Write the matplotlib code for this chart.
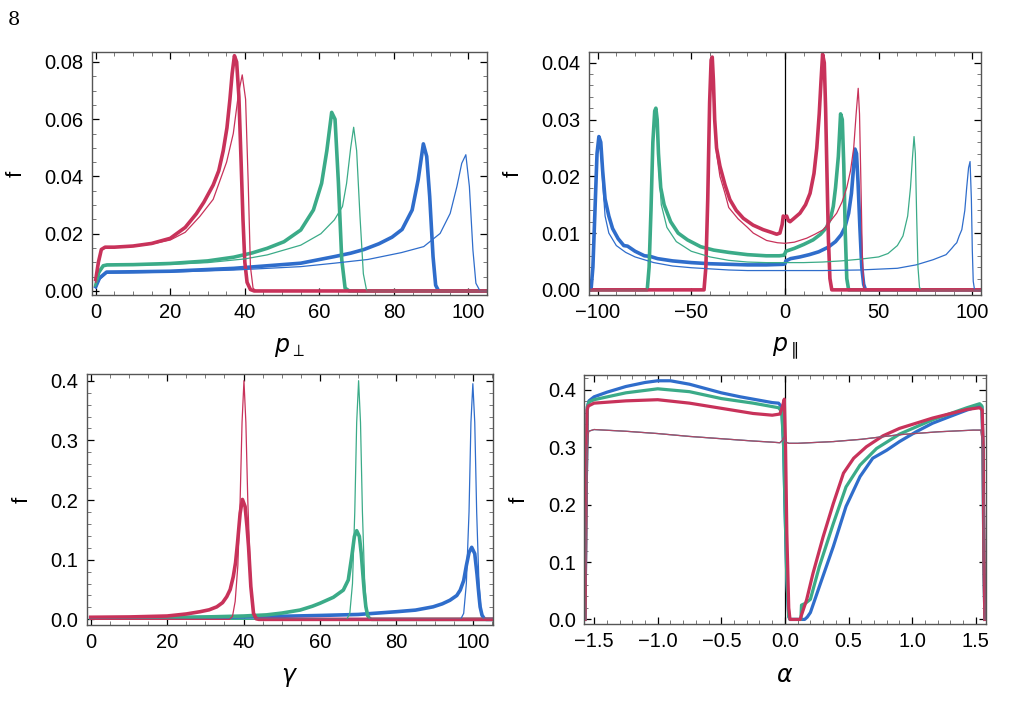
import matplotlib
matplotlib.use('Agg')
import matplotlib.pyplot as plt
from matplotlib.ticker import MultipleLocator, FuncFormatter

plt.rcParams['font.family'] = ['Liberation Sans', 'DejaVu Sans']
plt.rcParams['mathtext.fontset'] = 'dejavusans'

BLUE = '#2f6dcb'
GREEN = '#3bab88'
RED = '#c8325a'

# ---- p_perp panel ----
pperp_blue_thick_x = [0, 1, 2.9, 10, 20, 37, 55, 64, 68.4, 72, 76, 79.5, 82.2, 84.9, 86.5, 87.9, 88.8, 89.6, 90.5, 91.2, 92, 106]
pperp_blue_thick_y = [0.0015, 0.0045, 0.0066, 0.0067, 0.0069, 0.0079, 0.0097, 0.012, 0.0132, 0.0145, 0.0165, 0.0188, 0.0215, 0.0283, 0.0388, 0.0514, 0.047, 0.033, 0.012, 0.002, 0, 0]
pperp_blue_thin_x = [0, 1, 2.9, 20, 37, 55, 64, 73, 82, 88, 92.4, 95.1, 96.9, 98.2, 99.3, 100.25, 101.2, 102.0, 103.1, 106]
pperp_blue_thin_y = [0.001, 0.004, 0.0062, 0.0066, 0.0073, 0.0085, 0.0097, 0.011, 0.0134, 0.0155, 0.0201, 0.0271, 0.0365, 0.0446, 0.0476, 0.0365, 0.0143, 0.0027, 0, 0]
pperp_green_thick_x = [0, 0.8, 2, 3, 10, 20, 30, 37, 42, 46, 50.5, 55, 58.4, 60.6, 62.0, 63.3, 64.2, 65.1, 66.0, 66.9, 68, 106]
pperp_green_thick_y = [0.002, 0.0065, 0.0088, 0.0091, 0.0092, 0.0096, 0.0105, 0.0118, 0.0133, 0.0149, 0.0172, 0.0213, 0.0283, 0.0376, 0.049, 0.0624, 0.060, 0.038, 0.011, 0.001, 0, 0]
pperp_green_thin_x = [0, 0.8, 2, 3, 10, 20, 30, 40, 46, 55, 60.4, 64, 66.2, 67.3, 68.4, 69.2, 70.0, 70.9, 71.8, 72.7, 106]
pperp_green_thin_y = [0.002, 0.006, 0.0086, 0.0089, 0.009, 0.0093, 0.0099, 0.0112, 0.0126, 0.016, 0.020, 0.0248, 0.0295, 0.0376, 0.050, 0.0572, 0.049, 0.026, 0.006, 0, 0]
pperp_red_thick_x = [0, 0.7, 1.5, 2.5, 5, 10, 15, 20, 24, 27, 29, 31.5, 33, 34.2, 35.2, 36, 36.6, 37.2, 37.8, 38.4, 39, 39.5, 40, 40.6, 41.5, 42.5, 106]
pperp_red_thick_y = [0.004, 0.010, 0.0145, 0.0153, 0.0153, 0.0157, 0.0166, 0.0184, 0.0222, 0.027, 0.031, 0.037, 0.042, 0.049, 0.057, 0.067, 0.076, 0.0822, 0.080, 0.068, 0.045, 0.025, 0.010, 0.003, 0.0005, 0, 0]
pperp_red_thin_x = [0, 0.7, 1.5, 2.5, 5, 10, 15, 20, 24, 27.9, 31.5, 35.1, 36.9, 38.3, 39.3, 40.2, 40.9, 41.5, 42.2, 43, 106]
pperp_red_thin_y = [0.003, 0.009, 0.0142, 0.0151, 0.0152, 0.0156, 0.0164, 0.0178, 0.0205, 0.026, 0.032, 0.045, 0.055, 0.069, 0.0755, 0.067, 0.038, 0.0085, 0.001, 0, 0]

# ---- p_par panel ----
ppar_blue_thick_x = [-106, -103.5, -102.5, -101.5, -100.3, -99.3, -98.3, -97.3, -96, -94, -92, -89, -86, -84, -80, -75, -72, -68, -60, -50, -40, -30, -20, -10, -1, 0, 0.5, 3, 8, 13, 18, 23, 27, 30, 32, 34, 35.5, 36.5, 37.4, 38.2, 39, 40, 41, 42, 43, 106]
ppar_blue_thick_y = [0, 0, 0.004, 0.013, 0.024, 0.027, 0.026, 0.021, 0.016, 0.013, 0.0108, 0.009, 0.0078, 0.0077, 0.0068, 0.006, 0.0059, 0.0055, 0.0051, 0.0048, 0.0046, 0.0045, 0.0044, 0.0044, 0.0045, 0.0046, 0.0051, 0.0055, 0.0058, 0.0062, 0.0067, 0.0075, 0.0085, 0.0097, 0.011, 0.0135, 0.017, 0.021, 0.0248, 0.024, 0.019, 0.011, 0.004, 0.001, 0, 0]
ppar_blue_thin_x = [-106, -103.5, -102.5, -101.5, -100.3, -99.3, -98.3, -97.3, -96, -94, -90, -85, -80, -70, -60, -50, -40, -30, -20, 0, 20, 40, 60, 70, 79, 86, 89, 90.5, 91.7, 93, 94.4, 96, 97, 98, 98.8, 99.5, 100, 100.5, 101.2, 106]
ppar_blue_thin_y = [0, 0, 0.004, 0.013, 0.024, 0.0265, 0.025, 0.019, 0.013, 0.010, 0.0078, 0.0066, 0.0058, 0.0048, 0.0042, 0.0039, 0.0037, 0.0035, 0.0034, 0.0034, 0.0034, 0.0035, 0.0038, 0.0044, 0.0053, 0.0062, 0.0073, 0.0079, 0.0083, 0.0095, 0.0106, 0.014, 0.018, 0.0215, 0.0226, 0.016, 0.007, 0.0015, 0, 0]
ppar_green_thick_x = [-106, -73.5, -72.5, -71.5, -70.5, -69.5, -68.9, -68.2, -67.5, -66.3, -64.5, -61, -57, -52, -45, -38, -30, -20, -10, -3, -0.5, 0, 0.5, 5, 10, 15, 19, 22.2, 24.5, 25.8, 27, 28.5, 29.7, 30.6, 31.4, 32.2, 33, 34, 106]
ppar_green_thick_y = [0, 0, 0.004, 0.014, 0.026, 0.0315, 0.032, 0.030, 0.024, 0.018, 0.015, 0.012, 0.010, 0.0088, 0.0076, 0.007, 0.0066, 0.0062, 0.006, 0.006, 0.0061, 0.0064, 0.0068, 0.0073, 0.0080, 0.0088, 0.0098, 0.011, 0.0128, 0.0147, 0.018, 0.0235, 0.031, 0.030, 0.022, 0.010, 0.002, 0, 0]
ppar_green_thin_x = [-106, -73.5, -72.5, -71.5, -70.5, -69.5, -68.9, -68.2, -67.5, -66, -63, -58, -50, -40, -30, -20, -10, 0, 10, 20, 30, 40, 50, 55, 60, 63, 65.5, 67, 68, 68.9, 69.6, 70.3, 71, 71.8, 72.5, 106]
ppar_green_thin_y = [0, 0, 0.004, 0.014, 0.026, 0.031, 0.0315, 0.029, 0.022, 0.015, 0.011, 0.0085, 0.0068, 0.0058, 0.0052, 0.0049, 0.0048, 0.0048, 0.0048, 0.0049, 0.0051, 0.0054, 0.0058, 0.0064, 0.0078, 0.0095, 0.013, 0.018, 0.023, 0.027, 0.024, 0.013, 0.004, 0.0005, 0, 0]
ppar_red_thick_x = [-106, -43.2, -42.2, -41.2, -40.2, -39.4, -38.8, -38.2, -37.5, -36.5, -34.7, -32, -29.4, -26, -22.2, -17, -11.6, -7, -4.4, -2.7, -1.5, -0.9, -0.3, 0.5, 0.9, 1.8, 2.7, 4.5, 8, 11, 13.4, 15.5, 17, 18.3, 19.2, 20.1, 21, 21.7, 22.4, 23.2, 24, 25, 106]
ppar_red_thick_y = [0, 0, 0.004, 0.016, 0.033, 0.0405, 0.041, 0.037, 0.030, 0.025, 0.0218, 0.0185, 0.0159, 0.014, 0.0126, 0.0114, 0.0106, 0.0101, 0.0098, 0.0100, 0.0115, 0.013, 0.0128, 0.0128, 0.013, 0.0122, 0.012, 0.0125, 0.0135, 0.015, 0.017, 0.0205, 0.025, 0.031, 0.0365, 0.0415, 0.040, 0.032, 0.021, 0.009, 0.002, 0, 0]
ppar_red_thin_x = [-106, -43.2, -42.2, -41.2, -40.2, -39.4, -38.8, -38.2, -37.5, -36.5, -34.7, -32, -30, -25, -20, -16.9, -9.8, -4, 0, 5, 11.6, 16, 20.5, 24, 27.6, 30.5, 33, 35, 36.7, 38, 39.1, 39.8, 40.6, 41.3, 42.2, 106]
ppar_red_thin_y = [0, 0, 0.004, 0.016, 0.033, 0.040, 0.0405, 0.036, 0.029, 0.024, 0.020, 0.017, 0.0145, 0.0125, 0.011, 0.010, 0.0087, 0.0083, 0.0082, 0.0084, 0.0091, 0.0098, 0.0106, 0.012, 0.0135, 0.0155, 0.018, 0.021, 0.025, 0.031, 0.0355, 0.031, 0.018, 0.006, 0, 0]

# ---- gamma panel ----
gam_blue_thick_x = [0, 20, 40, 60, 70, 80, 85, 89.6, 92, 94, 95.8, 96.7, 97.6, 98.3, 99, 99.7, 100.5, 101.1, 101.6, 101.9, 102.4, 103, 103.5, 106]
gam_blue_thick_y = [0.002, 0.0025, 0.0038, 0.0065, 0.0082, 0.0128, 0.0155, 0.021, 0.026, 0.032, 0.040, 0.049, 0.065, 0.09, 0.112, 0.1207, 0.11, 0.075, 0.04, 0.021, 0.007, 0.001, 0, 0]
gam_blue_thin_x = [0, 96.8, 97.6, 98.3, 99, 99.5, 100, 100.5, 101, 101.6, 102.2, 102.9, 106]
gam_blue_thin_y = [0, 0, 0.01, 0.06, 0.18, 0.33, 0.395, 0.33, 0.18, 0.06, 0.01, 0, 0]
gam_green_thick_x = [0, 20, 30, 40, 46, 50, 54.8, 58, 60, 63.5, 66.1, 67.4, 68.3, 69, 69.6, 70.3, 70.8, 71.2, 71.6, 72, 72.5, 72.9, 73.5, 106]
gam_green_thick_y = [0.0025, 0.003, 0.004, 0.0056, 0.0075, 0.0105, 0.0156, 0.022, 0.027, 0.037, 0.049, 0.066, 0.105, 0.139, 0.1486, 0.139, 0.11, 0.077, 0.045, 0.021, 0.006, 0.0017, 0, 0]
gam_green_thin_x = [0, 67, 67.8, 68.5, 69.1, 69.6, 70.1, 70.6, 71.1, 71.7, 72.3, 73, 106]
gam_green_thin_y = [0, 0, 0.01, 0.06, 0.18, 0.33, 0.4, 0.33, 0.18, 0.06, 0.01, 0, 0]
gam_red_thick_x = [0, 10, 20, 25, 28.6, 31, 33, 34.5, 35.6, 36.5, 37.3, 37.9, 38.4, 39.1, 39.7, 40.4, 40.9, 41.3, 41.9, 42.6, 43.3, 44, 106]
gam_red_thick_y = [0.0035, 0.004, 0.0056, 0.009, 0.0128, 0.016, 0.021, 0.028, 0.038, 0.05, 0.0715, 0.095, 0.127, 0.178, 0.201, 0.189, 0.155, 0.122, 0.055, 0.01, 0.001, 0, 0]
gam_red_thin_x = [0, 36.3, 37.1, 37.8, 38.5, 39.1, 39.6, 40.1, 40.6, 41.1, 41.7, 42.3, 43, 106]
gam_red_thin_y = [0, 0, 0.005, 0.03, 0.09, 0.2, 0.33, 0.4, 0.33, 0.2, 0.09, 0.025, 0, 0]

# ---- alpha panel ----
alpha_thin_x = [-1.571, -1.562, -1.553, -1.543, -1.5, -1.25, -1.0, -0.75, -0.5, -0.25, -0.1, -0.04, -0.02, -0.01, 0.0, 0.01, 0.03, 0.1, 0.38, 0.6, 0.9, 1.2, 1.48, 1.54, 1.555, 1.565, 1.571]
alpha_thin_y = [0, 0.15, 0.3, 0.328, 0.331, 0.328, 0.324, 0.319, 0.315, 0.311, 0.309, 0.308, 0.312, 0.318, 0.312, 0.309, 0.307, 0.307, 0.31, 0.314, 0.322, 0.327, 0.330, 0.33, 0.3, 0.15, 0]
alpha_blue_x = [-1.571, -1.563, -1.553, -1.54, -1.5, -1.4, -1.25, -1.1, -1.0, -0.9, -0.75, -0.6, -0.5, -0.35, -0.25, -0.1, -0.05, -0.025, -0.01, 0.0, 0.015, 0.03, 0.04, 0.155, 0.175, 0.2, 0.27, 0.38, 0.48, 0.59, 0.69, 0.8, 0.9, 1.03, 1.16, 1.3, 1.43, 1.53, 1.548, 1.556, 1.563, 1.571]
alpha_blue_y = [0, 0.2, 0.37, 0.381, 0.388, 0.396, 0.406, 0.413, 0.416, 0.416, 0.41, 0.401, 0.395, 0.388, 0.384, 0.378, 0.377, 0.37, 0.3, 0.2, 0.07, 0.005, 0, 0, 0.004, 0.012, 0.057, 0.127, 0.197, 0.249, 0.281, 0.295, 0.31, 0.327, 0.342, 0.354, 0.365, 0.372, 0.37, 0.3, 0.1, 0]
alpha_green_x = [-1.571, -1.563, -1.553, -1.54, -1.5, -1.25, -1.0, -0.75, -0.5, -0.25, -0.1, -0.05, -0.025, -0.01, 0.0, 0.015, 0.03, 0.04, 0.125, 0.13, 0.16, 0.2, 0.27, 0.38, 0.48, 0.59, 0.72, 0.9, 1.16, 1.43, 1.53, 1.548, 1.556, 1.563, 1.571]
alpha_green_y = [0, 0.2, 0.37, 0.379, 0.383, 0.395, 0.402, 0.397, 0.385, 0.377, 0.371, 0.369, 0.362, 0.3, 0.2, 0.07, 0.005, 0, 0, 0.025, 0.028, 0.035, 0.092, 0.167, 0.231, 0.269, 0.298, 0.323, 0.348, 0.369, 0.376, 0.372, 0.3, 0.1, 0]
alpha_red_x = [-1.571, -1.563, -1.555, -1.545, -1.5, -1.25, -1.0, -0.75, -0.5, -0.25, -0.1, -0.04, -0.02, -0.005, 0.005, 0.015, 0.03, 0.04, 0.12, 0.13, 0.17, 0.22, 0.3, 0.38, 0.46, 0.54, 0.64, 0.77, 0.9, 1.16, 1.43, 1.53, 1.55, 1.558, 1.564, 1.571]
alpha_red_y = [0, 0.2, 0.365, 0.372, 0.377, 0.381, 0.383, 0.377, 0.368, 0.359, 0.356, 0.358, 0.371, 0.384, 0.3, 0.15, 0.02, 0, 0, 0.0076, 0.034, 0.08, 0.144, 0.202, 0.255, 0.281, 0.301, 0.32, 0.333, 0.351, 0.366, 0.369, 0.365, 0.3, 0.1, 0]

fig = plt.figure(figsize=(10.25, 7.13), dpi=100)

THICK = 2.6
THIN = 0.9


def style(ax, xlim, ylim, xmaj, xmin, ymaj, ymin, xfmt, yfmt, xlabel):
    ax.set_xlim(*xlim)
    ax.set_ylim(*ylim)
    ax.xaxis.set_major_locator(MultipleLocator(xmaj))
    ax.xaxis.set_minor_locator(MultipleLocator(xmin))
    ax.yaxis.set_major_locator(MultipleLocator(ymaj))
    ax.yaxis.set_minor_locator(MultipleLocator(ymin))
    ax.xaxis.set_major_formatter(FuncFormatter(lambda v, p: (xfmt % v).replace('-', '\u2212')))
    ax.yaxis.set_major_formatter(FuncFormatter(lambda v, p: (yfmt % v).replace('-', '\u2212')))
    ax.tick_params(which='both', direction='in', top=True, right=True, labelsize=14.5, pad=6)
    ax.tick_params(which='major', length=5, width=0.9, color='black')
    ax.tick_params(which='minor', length=3, width=0.7, color='#777777')
    for s in ax.spines.values():
        s.set_color('#555555')
        s.set_linewidth(1.0)
    ax.set_xlabel(xlabel, fontsize=17, labelpad=10)
    ax.set_ylabel('f', fontsize=16, labelpad=13)


fig.text(0.008, 0.985, '8', fontsize=14, family='DejaVu Serif', va='top', ha='left')

# panel 1
ax1 = fig.add_axes([0.0898, 0.5863, 0.3854, 0.3408])
for x, y, c in [(pperp_blue_thick_x, pperp_blue_thick_y, BLUE), (pperp_green_thick_x, pperp_green_thick_y, GREEN), (pperp_red_thick_x, pperp_red_thick_y, RED)]:
    ax1.plot(x, y, color=c, lw=THICK, solid_joinstyle='round')
for x, y, c in [(pperp_blue_thin_x, pperp_blue_thin_y, BLUE), (pperp_green_thin_x, pperp_green_thin_y, GREEN), (pperp_red_thin_x, pperp_red_thin_y, RED)]:
    ax1.plot(x, y, color=c, lw=THIN)
style(ax1, (-1, 105), (-0.0014, 0.0835), 20, 5, 0.02, 0.005, '%d', '%.2f', r'$p_{\perp}$')

# panel 2
ax2 = fig.add_axes([0.5746, 0.5863, 0.3824, 0.3408])
ax2.axvline(0, color='black', lw=0.9)
for x, y, c in [(ppar_blue_thick_x, ppar_blue_thick_y, BLUE), (ppar_green_thick_x, ppar_green_thick_y, GREEN), (ppar_red_thick_x, ppar_red_thick_y, RED)]:
    ax2.plot(x, y, color=c, lw=THICK, solid_joinstyle='round')
for x, y, c in [(ppar_blue_thin_x, ppar_blue_thin_y, BLUE), (ppar_green_thin_x, ppar_green_thin_y, GREEN), (ppar_red_thin_x, ppar_red_thin_y, RED)]:
    ax2.plot(x, y, color=c, lw=THIN)
style(ax2, (-104.6, 104.6), (-0.0009, 0.0419), 50, 10, 0.01, 0.002, '%d', '%.2f', r'$p_{\parallel}$')

# panel 3
ax3 = fig.add_axes([0.0846, 0.1234, 0.3961, 0.3516])
for x, y, c in [(gam_blue_thick_x, gam_blue_thick_y, BLUE), (gam_green_thick_x, gam_green_thick_y, GREEN), (gam_red_thick_x, gam_red_thick_y, RED)]:
    ax3.plot(x, y, color=c, lw=THICK, solid_joinstyle='round')
for x, y, c in [(gam_blue_thin_x, gam_blue_thin_y, BLUE), (gam_green_thin_x, gam_green_thin_y, GREEN), (gam_red_thin_x, gam_red_thin_y, RED)]:
    ax3.plot(x, y, color=c, lw=THIN)
style(ax3, (-1.05, 105.2), (-0.0095, 0.4107), 20, 5, 0.1, 0.02, '%d', '%.1f', r'$\gamma$')

# panel 4
ax4 = fig.add_axes([0.570, 0.1248, 0.3916, 0.3492])
ax4.axvline(0, color='black', lw=0.9)
for x, y, c in [(alpha_blue_x, alpha_blue_y, BLUE), (alpha_green_x, alpha_green_y, GREEN), (alpha_red_x, alpha_red_y, RED)]:
    ax4.plot(x, y, color=c, lw=2.3, solid_joinstyle='round')
for c in [BLUE, GREEN, RED]:
    ax4.plot(alpha_thin_x, alpha_thin_y, color=c, lw=THIN, alpha=0.8)
style(ax4, (-1.577, 1.577), (-0.008, 0.426), 0.5, 0.1, 0.1, 0.02, '%.1f', '%.1f', r'$\alpha$')

fig.savefig('out.png', dpi=100)
